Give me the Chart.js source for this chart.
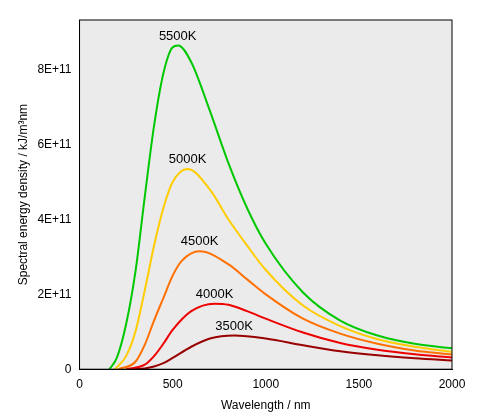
<!DOCTYPE html>
<html><head><meta charset="utf-8">
<script src="https://cdn.jsdelivr.net/npm/chart.js@4"></script>
<style>html,body{margin:0;background:#fff}#w{width:500px;height:417px}</style>
</head><body><div id="w"><canvas id="c"></canvas></div>
<script>
const temps=["5500K","5000K","4500K","4000K","3500K"];
const colors=["#00c800","#ffcc00","#ff7000","#ee0000","#990000"];
const wl5500=[160,200,250,300,350,400,450,500,530,600,700,800,900,1000,1200,1400,1600,1800,2000];
const v5500=[0,0.3,1.2,2.6,4.6,6.5,7.9,8.6,8.65,8.2,6.9,5.5,4.3,3.35,2.05,1.3,0.9,0.68,0.56];
const wl5000=[190,250,300,350,400,450,500,580,700,800,900,1000,1200,1400,1600,1800,2000];
const v5000=[0,0.35,1.0,2.1,3.3,4.3,5.0,5.35,4.8,4.0,3.3,2.65,1.7,1.15,0.8,0.6,0.46];
const wl4500=[210,300,350,400,450,500,550,645,800,900,1000,1200,1400,1600,1800,2000];
const v4500=[0,0.2,0.65,1.3,1.9,2.5,2.9,3.15,2.8,2.4,2.0,1.35,0.95,0.68,0.5,0.39];
const wl4000=[250,350,400,450,500,600,725,800,900,1000,1200,1400,1600,1800,2000];
const v4000=[0,0.12,0.35,0.68,1.05,1.55,1.75,1.72,1.55,1.35,0.98,0.7,0.52,0.4,0.31];
const wl3500=[290,350,400,450,500,600,700,830,1000,1200,1400,1600,1800,2000];
const v3500=[0,0.02,0.07,0.16,0.3,0.6,0.82,0.9,0.82,0.64,0.48,0.37,0.29,0.23];
const peaks=[[527,8.65],[580,5.35],[645,3.15],[725,1.75],[830,0.9]];
const xTicks=[0,500,1000,1500,2000];
const yTicks=["0","2E+11","4E+11","6E+11","8E+11"];
const wls=[wl5500,wl5000,wl4500,wl4000,wl3500], vs=[v5500,v5000,v4500,v4000,v3500];
const datasets=temps.map((t,i)=>({label:t,data:wls[i].map((x,j)=>({x,y:vs[i][j]*1e11})),borderColor:colors[i],borderWidth:2,pointRadius:0,tension:0.4,cubicInterpolationMode:'monotone'}));
const F="'Liberation Sans', Arial, sans-serif";
const bg={id:'bg',beforeDraw(ch){const a=ch.chartArea,c=ch.ctx;c.save();c.fillStyle='#ebebeb';c.fillRect(a.left,a.top,a.right-a.left,a.bottom-a.top);c.restore();},
afterDatasetsDraw(ch){const c=ch.ctx,xs=ch.scales.x,ys=ch.scales.y;c.save();c.font="13px "+F;c.fillStyle='#000';c.textAlign='center';c.textBaseline='bottom';
peaks.forEach((p,i)=>c.fillText(temps[i],xs.getPixelForValue(p[0]),ys.getPixelForValue(p[1]*1e11)-3));
c.strokeStyle='#000';c.lineWidth=1;const a=ch.chartArea;c.strokeRect(a.left,a.top,a.right-a.left,a.bottom-a.top);c.restore();}};
new Chart(document.getElementById('c'),{type:'line',data:{datasets},plugins:[bg],
options:{responsive:true,maintainAspectRatio:false,animation:false,layout:{padding:{top:20,right:48,bottom:0,left:12}},
plugins:{legend:{display:false},tooltip:{enabled:false}},
scales:{x:{type:'linear',min:0,max:2000,afterBuildTicks:s=>{s.ticks=xTicks.map(v=>({value:v}))},
grid:{display:false,drawTicks:true,tickLength:5,color:'#000'},border:{color:'#000'},
ticks:{color:'#000',font:{family:F,size:12},callback:v=>String(v)},title:{display:true,text:'Wavelength / nm',color:'#000',font:{family:F,size:12}}},
y:{min:0,max:9.33e11,afterBuildTicks:s=>{s.ticks=yTicks.map((t,i)=>({value:i*2e11}))},
grid:{display:false,tickLength:5,color:'#000'},border:{color:'#000'},
ticks:{color:'#000',font:{family:F,size:12},callback:(v,i)=>yTicks[i]},
title:{display:true,text:'Spectral energy density / kJ/m³nm',color:'#000',font:{family:F,size:12}}}}}});
</script></body></html>
